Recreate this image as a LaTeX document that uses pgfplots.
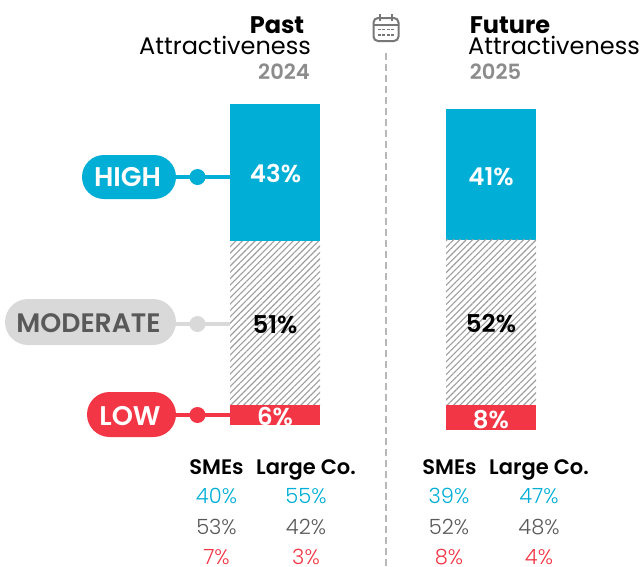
\documentclass[border=0pt]{standalone}
\usepackage{fontspec}
\setmainfont{Poppins}
\newfontfamily\semi{Poppins SemiBold}
\newfontfamily\lgt{Poppins Light}
\usepackage{pgfplots}
\pgfplotsset{compat=1.18}
\usetikzlibrary{patterns.meta}
\definecolor{cy}{HTML}{00AED6}
\definecolor{rd}{HTML}{F23645}
\definecolor{lg}{HTML}{D9D9D9}
\definecolor{dg}{HTML}{595959}
\definecolor{mg}{HTML}{8C8C8C}
\pgfplotsset{barax/.style={scale only axis,width=643pt,height=566pt,xmin=0,xmax=643,hide axis,clip=false,
  ybar stacked,bar width=90pt,anchor=south west,at={(0pt,-566pt)}},
  cyb/.style={fill=cy,draw=none},
  hb/.style={draw=none,pattern={Lines[angle=45,distance=4.5pt,line width=1.1pt]},pattern color=mg!85},
  rdb/.style={fill=rd,draw=none}}
\newcommand{\T}[4]{\node[anchor=base,font=\fontsize{#3}{#3}\selectfont,text=#4,inner sep=0pt] at #1 {#2};}
\begin{document}
\begin{tikzpicture}[x=1pt,y=-1pt]
\path[use as bounding box] (0,0) rectangle (643,566);
\begin{axis}[barax,ymin=-43.93,ymax=132.4]
\addplot[rdb] coordinates {(275,6.2)};
\addplot[hb] coordinates {(275,51.1)};
\addplot[cyb] coordinates {(275,42.7)};
\end{axis}
\begin{axis}[barax,ymin=-42.37,ymax=133.96]
\addplot[rdb] coordinates {(491,7.8)};
\addplot[hb] coordinates {(491,51.4)};
\addplot[cyb] coordinates {(491,40.8)};
\end{axis}
% divider
\draw[lg!85!black,line width=2.4pt,dash pattern=on 7pt off 4pt] (386,53)--(386,566);
% calendar
\begin{scope}[mg!85!black,line width=2pt]
\draw[rounded corners=4.5pt] (373.5,18) rectangle (398.5,41);
\draw (373.5,24.5)--(398.5,24.5);
\draw (380,14)--(380,21) (392,14)--(392,21);
\draw[line width=1.4pt,dash pattern=on 2.8pt off 1.6pt] (378,29.5)--(394,29.5) (378,35)--(394,35);
\end{scope}
% connectors
\draw[cy,line width=3.5pt] (170,177)--(230,177); \fill[cy] (197.5,177) circle (8);
\draw[lg,line width=3.5pt] (170,324)--(230,324); \fill[lg] (197.5,324) circle (8);
\draw[rd,line width=3.5pt] (170,415)--(230,415); \fill[rd] (197.5,415) circle (8);
% pills
\fill[cy,rounded corners=22pt] (82,155) rectangle (176,199);
\fill[lg,rounded corners=23pt] (5,299) rectangle (176,345);
\fill[rd,rounded corners=22.5pt] (87,392) rectangle (176,437);
\T{(127.5,186)}{\semi HIGH}{27}{white}
\T{(88.5,332.5)}{\semi MODERATE}{26.7}{dg}
\T{(130,425)}{\semi LOW}{27}{white}
% headers
\T{(277,33)}{\bfseries Past}{24}{black}
\T{(225,54)}{Attractiveness}{24}{black}
\T{(284,79.5)}{\semi 2024}{21}{mg}
\T{(510,33)}{\bfseries Future}{24}{black}
\T{(554,54)}{Attractiveness}{24}{black}
\T{(495.5,79.5)}{\semi 2025}{21}{mg}
% bar labels
\T{(275.5,182.5)}{\semi 43\%}{24.5}{white}
\T{(275,333.5)}{\semi 51\%}{24.5}{black}
\T{(275,425)}{\semi 6\%}{24.5}{white}
\T{(491,185)}{\semi 41\%}{24.5}{white}
\T{(491,332.5)}{\semi 52\%}{24.5}{black}
\T{(491,428)}{\semi 8\%}{24.5}{white}
% table
\T{(216.5,474)}{\semi SMEs}{21}{black}
\T{(306,474)}{\semi Large Co.}{21}{black}
\T{(449.5,474)}{\semi SMEs}{21}{black}
\T{(539,474)}{\semi Large Co.}{21}{black}
\T{(216.5,503.5)}{\lgt 40\%}{21}{cy}
\T{(306,503.5)}{\lgt 55\%}{21}{cy}
\T{(449,503.5)}{\lgt 39\%}{21}{cy}
\T{(539,503.5)}{\lgt 47\%}{21}{cy}
\T{(216.5,534.5)}{\lgt 53\%}{21}{dg}
\T{(306,534.5)}{\lgt 42\%}{21}{dg}
\T{(449,534.5)}{\lgt 52\%}{21}{dg}
\T{(539,534.5)}{\lgt 48\%}{21}{dg}
\T{(216.5,564)}{\lgt 7\%}{21}{rd}
\T{(306,564)}{\lgt 3\%}{21}{rd}
\T{(449,564)}{\lgt 8\%}{21}{rd}
\T{(539,564)}{\lgt 4\%}{21}{rd}
\end{tikzpicture}
\end{document}
